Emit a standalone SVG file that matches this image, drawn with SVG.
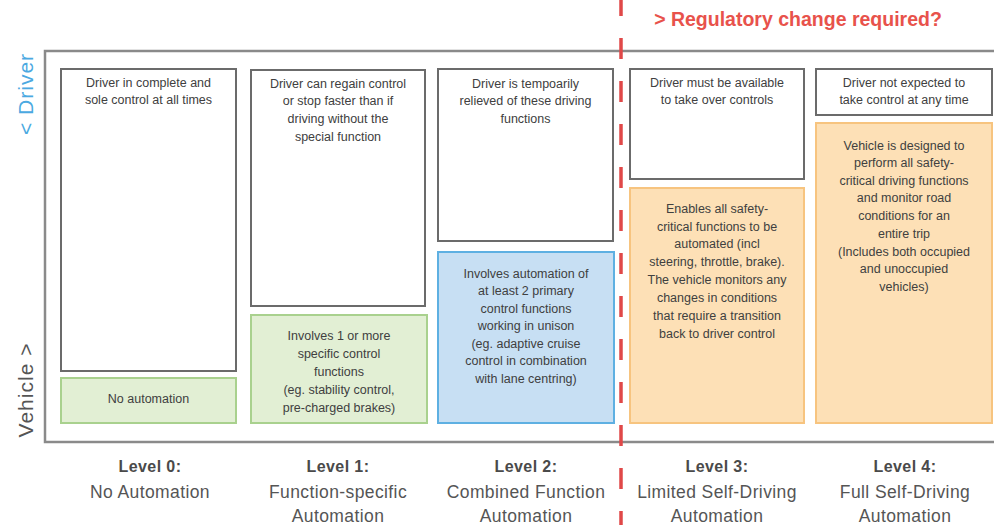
<svg xmlns="http://www.w3.org/2000/svg" width="994" height="525" viewBox="0 0 994 525">
<style>
.bx{fill:#fff;stroke:#6b6b6b;stroke-width:2}
.gr{fill:#e2efd4;stroke:#a9d18e;stroke-width:2}
.bl{fill:#c7dff3;stroke:#5eb0e2;stroke-width:2}
.or{fill:#fde0b6;stroke:#f7c47f;stroke-width:2}
.t{font-family:"Liberation Sans",Arial,sans-serif;font-size:12.5px;fill:#404040;text-anchor:middle}
.lv{font-family:"Liberation Sans",Arial,sans-serif;font-size:16px;font-weight:bold;fill:#4a4a4a;text-anchor:middle;letter-spacing:0.4px}
.ld{font-family:"Liberation Sans",Arial,sans-serif;font-size:17.5px;fill:#555;text-anchor:middle;letter-spacing:0.4px}
</style>
<rect width="994" height="525" fill="#fff"/>
<g id="frame">
<path d="M994 51 H45 V442 H994" fill="none" stroke="#8a8a8a" stroke-width="2.5"/>
</g>
<g id="axis-driver"><text transform="translate(33,94) rotate(-90)" font-family="Liberation Sans,Arial,sans-serif" font-size="21" fill="#4ba9e1" text-anchor="middle" letter-spacing="1">&lt; Driver</text></g>
<g id="axis-vehicle"><text transform="translate(33,390) rotate(-90)" font-family="Liberation Sans,Arial,sans-serif" font-size="21" fill="#555" text-anchor="middle" letter-spacing="1">Vehicle &gt;</text></g>
<g id="title"><text x="798" y="26" font-family="Liberation Sans,Arial,sans-serif" font-size="19.5" font-weight="bold" fill="#e8524b" text-anchor="middle">&gt; Regulatory change required?</text></g>

<g id="level0">
<rect class="bx" x="61" y="69" width="175" height="302"/>
<text class="t" x="148.5" y="87">Driver in complete and</text>
<text class="t" x="148.5" y="104">sole control at all times</text>
<rect class="gr" x="61" y="378" width="175" height="45"/>
<text class="t" x="148.5" y="403">No automation</text>
<text class="lv" x="150" y="472">Level 0:</text>
<text class="ld" x="150" y="498">No Automation</text>
</g>

<g id="level1">
<rect class="bx" x="251" y="70" width="174" height="236"/>
<text class="t" x="338" y="87.5">Driver can regain control</text>
<text class="t" x="338" y="105">or stop faster than if</text>
<text class="t" x="338" y="123">driving without the</text>
<text class="t" x="338" y="141">special function</text>
<rect class="gr" x="251" y="315" width="176" height="108"/>
<text class="t" x="339" y="340">Involves 1 or more</text>
<text class="t" x="339" y="357.5">specific control</text>
<text class="t" x="339" y="375.5">functions</text>
<text class="t" x="339" y="394">(eg. stability control,</text>
<text class="t" x="339" y="412">pre-charged brakes)</text>
<text class="lv" x="338" y="472">Level 1:</text>
<text class="ld" x="338" y="498">Function-specific</text>
<text class="ld" x="338" y="522">Automation</text>
</g>

<g id="level2">
<rect class="bx" x="438" y="69" width="175" height="172"/>
<text class="t" x="525.5" y="87.5">Driver is tempoarily</text>
<text class="t" x="525.5" y="105">relieved of these driving</text>
<text class="t" x="525.5" y="123">functions</text>
<rect class="bl" x="438" y="252" width="176" height="171"/>
<text class="t" x="526" y="277.5">Involves automation of</text>
<text class="t" x="526" y="295">at least 2 primary</text>
<text class="t" x="526" y="312.5">control functions</text>
<text class="t" x="526" y="330">working in unison</text>
<text class="t" x="526" y="347.5">(eg. adaptive cruise</text>
<text class="t" x="526" y="365">control in combination</text>
<text class="t" x="526" y="382.5">with lane centring)</text>
<text class="lv" x="526" y="472">Level 2:</text>
<text class="ld" x="526" y="498">Combined Function</text>
<text class="ld" x="526" y="522">Automation</text>
</g>

<g id="level3">
<rect class="bx" x="630" y="69" width="174" height="110"/>
<text class="t" x="717" y="86.5">Driver must be available</text>
<text class="t" x="717" y="104">to take over controls</text>
<rect class="or" x="630" y="188" width="174" height="235"/>
<text class="t" x="717" y="212.8">Enables all safety-</text>
<text class="t" x="717" y="230.5">critical functions to be</text>
<text class="t" x="717" y="248">automated (incl</text>
<text class="t" x="717" y="266">steering, throttle, brake).</text>
<text class="t" x="717" y="284">The vehicle monitors any</text>
<text class="t" x="717" y="301.5">changes in conditions</text>
<text class="t" x="717" y="319.5">that require a transition</text>
<text class="t" x="717" y="337.5">back to driver control</text>
<text class="lv" x="717" y="472">Level 3:</text>
<text class="ld" x="717" y="498">Limited Self-Driving</text>
<text class="ld" x="717" y="522">Automation</text>
</g>

<g id="level4">
<rect class="bx" x="816" y="69" width="176" height="46"/>
<text class="t" x="904" y="86.5">Driver not expected to</text>
<text class="t" x="904" y="104">take control at any time</text>
<rect class="or" x="816" y="123" width="176" height="300"/>
<text class="t" x="904" y="149.5">Vehicle is designed to</text>
<text class="t" x="904" y="167">perform all safety-</text>
<text class="t" x="904" y="184.5">critical driving functions</text>
<text class="t" x="904" y="202">and monitor road</text>
<text class="t" x="904" y="220">conditions for an</text>
<text class="t" x="904" y="237.5">entire trip</text>
<text class="t" x="904" y="255.5">(Includes both occupied</text>
<text class="t" x="904" y="273">and unoccupied</text>
<text class="t" x="904" y="291">vehicles)</text>
<text class="lv" x="905" y="472">Level 4:</text>
<text class="ld" x="905" y="498">Full Self-Driving</text>
<text class="ld" x="905" y="522">Automation</text>
</g>

<g id="connectors">
<line x1="621" y1="-5" x2="621" y2="530" stroke="#e04848" stroke-width="3.5" stroke-dasharray="21 22"/>
</g>
</svg>
